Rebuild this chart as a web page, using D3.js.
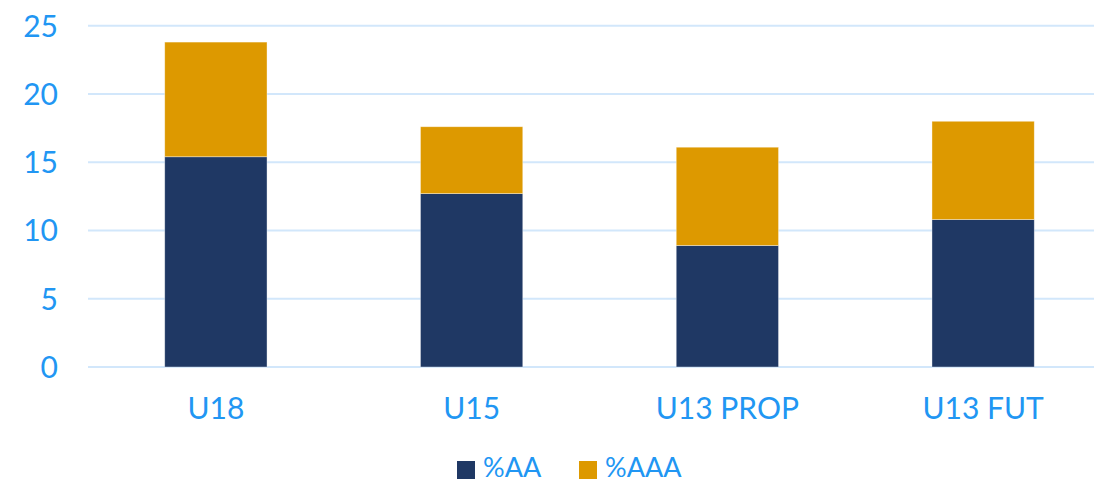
<!DOCTYPE html>
<html>
<head>
<meta charset="utf-8">
<script src="https://cdn.jsdelivr.net/npm/d3@7"></script>
<style>
  body { margin: 0; background: #fff; }
  text { font-family: "Century Gothic", "Lato", "Liberation Sans", sans-serif; fill: #2196f3; }
</style>
</head>
<body>
<div id="chart"></div>
<script>
const width = 1094
const height = 483

const categories = ["U18", "U15", "U13 PROP", "U13 FUT"]
const seriesNames = ["%AA", "%AAA"]
const aa = [15.4, 12.7, 8.9, 10.8]
const aaa = [8.4, 4.9, 7.2, 7.2]
const yTicks = [0, 5, 10, 15, 20, 25]
const colors = ["#1f3864", "#dd9900"]

const rows = categories.map((c, i) => ({ cat: c, "%AA": aa[i], "%AAA": aaa[i] }))

const svg = d3.select("#chart")
  .append("svg")
    .attr("width", width)
    .attr("height", height)

const x = d3.scaleBand()
  .domain(categories)
  .range([88, 1111])
  .paddingInner(0.6)
  .paddingOuter(0.3)

const y = d3.scaleLinear()
  .domain([0, 25])
  .range([367, 25.7])

// gridlines
svg.append("g")
  .selectAll("line")
  .data(yTicks)
  .join("line")
    .attr("x1", 88)
    .attr("x2", width)
    .attr("y1", d => y(d))
    .attr("y2", d => y(d))
    .attr("stroke", "#d2e7fb")
    .attr("stroke-width", 2)

// y labels
svg.append("g")
  .selectAll("text")
  .data(yTicks)
  .join("text")
    .attr("x", 58)
    .attr("y", d => y(d))
    .attr("dy", "0.36em")
    .attr("text-anchor", "end")
    .style("font-size", "30px")
    .text(d => d)

const stack = d3.stack().keys(seriesNames)(rows)

svg.append("g")
  .selectAll("g")
  .data(stack)
  .join("g")
    .attr("fill", (d, i) => colors[i])
  .selectAll("rect")
  .data(d => d)
  .join("rect")
    .attr("x", d => x(d.data.cat))
    .attr("width", x.bandwidth())
    .attr("y", d => y(d[1]))
    .attr("height", d => y(d[0]) - y(d[1]))
    .attr("stroke", "#ffffff")
    .attr("stroke-opacity", 0.5)
    .attr("stroke-width", 0.75)

// x labels
svg.append("g")
  .selectAll("text")
  .data(categories)
  .join("text")
    .attr("x", d => x(d) + x.bandwidth() / 2)
    .attr("y", 419)
    .attr("text-anchor", "middle")
    .style("font-size", "30px")
    .text(d => d)

// legend
const legendX = [457, 579]
const legend = svg.append("g")
  .selectAll("g")
  .data(seriesNames)
  .join("g")
    .attr("transform", (d, i) => "translate(" + legendX[i] + ",461)")
legend.append("rect")
  .attr("width", 18)
  .attr("height", 18)
  .attr("fill", (d, i) => colors[i])
legend.append("text")
  .attr("x", 26)
  .attr("y", 16)
  .style("font-size", "27px")
  .text(d => d)
</script>
</body>
</html>
